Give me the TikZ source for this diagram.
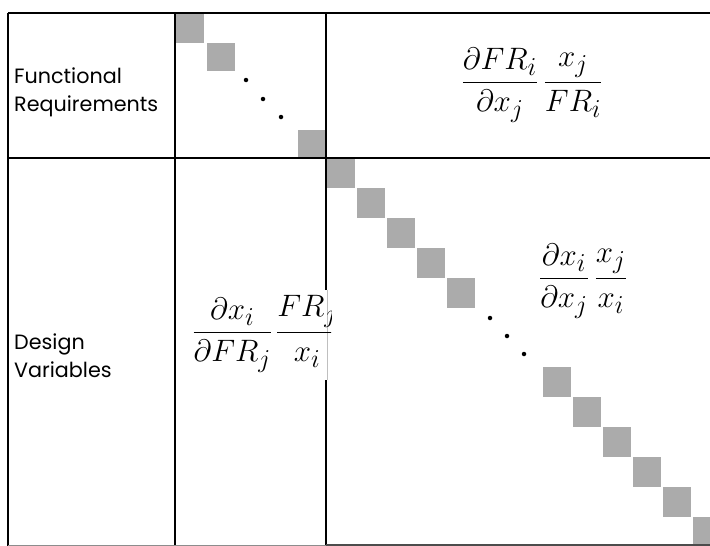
\documentclass[tikz,border=0pt]{standalone}
\usepackage{amsmath}
\usepackage{fontspec}
\setmainfont{Poppins}
\newcommand{\bigmath}[1]{\scalebox{1.246}{$#1$}}
\begin{document}
\begin{tikzpicture}[x=1pt,y=-1pt,
  frame/.style={line width=1.4pt, black},
  blk/.style={fill=black!33, draw=none},
  dotn/.style={circle, fill=black, inner sep=0pt, minimum size=4.5pt},
  lbl/.style={font=\fontsize{20.7}{28}\selectfont, align=left, anchor=west, inner sep=0pt},
  fracn/.style={font=\fontsize{24.88}{30}\selectfont, inner sep=0pt}]
\useasboundingbox (0,0) rectangle (710,546);
% squares upper-left block
\fill[blk] (175,13) rectangle ++(29,30);
\fill[blk] (207,43) rectangle ++(28,28);
\fill[blk] (298,130) rectangle ++(28,28);
\node[dotn] (d1) at (246,80) {};
\node[dotn] (d2) at (263,99) {};
\node[dotn] (d3) at (281,117) {};
% squares lower-right block
\foreach \i in {0,...,4} {\fill[blk] (327+30*\i,158+30*\i) rectangle ++(28,30);}
\foreach \i in {0,...,5} {\fill[blk] (543+30*\i,367+30*\i) rectangle ++(28,30);}
\node[dotn] (d4) at (490,318) {};
\node[dotn] (d5) at (507,336) {};
\node[dotn] (d6) at (524,354) {};
% frame
\draw[frame] (8,13) -- (710,13);
\draw[frame] (8,158) -- (710,158);
\draw[frame] (8,13) -- (8,546);
\draw[frame] (175,13) -- (175,546);
\draw[frame] (326,13) -- (326,290);
\draw[line width=0.6pt, black!25] (327,290) -- (327,380);
\draw[frame] (326,380) -- (326,546);
\draw[line width=1pt, black!45] (8,545) -- (326,545);
\draw[line width=1.2pt, black!70] (326,545) -- (710,545);
% labels
\node[lbl] (fr) at (14,92) {Functional\\Requirements};
\node[lbl] (dv) at (14,356) {Design\\Variables};
% fractions
\node[fracn] (f1) at (532,85) {\bigmath{\dfrac{\partial FR_{i}}{\partial x_{j}}\,\dfrac{x_{j}}{FR_{i}}}};
\begin{scope}
\clip (180,250) rectangle (331,420);
\node[fracn, anchor=west] (f2) at (192,334) {\bigmath{\dfrac{\partial x_{i}}{\partial FR_{j}}\mkern2mu\dfrac{FR_{j}}{x_{i}}}};
\end{scope}
\node[fracn] (f3) at (583,281) {\bigmath{\dfrac{\partial x_{i}}{\partial x_{j}}\,\dfrac{x_{j}}{x_{i}}}};
\end{tikzpicture}
\end{document}
